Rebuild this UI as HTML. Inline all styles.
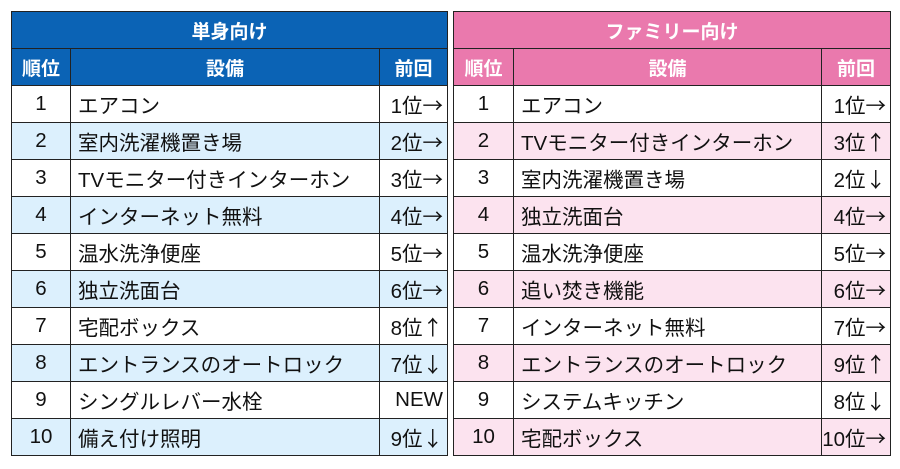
<!DOCTYPE html>
<html><head><meta charset="utf-8"><style>
body{margin:0;width:900px;height:469px;background:#fff;font-family:"Liberation Sans","Noto Sans CJK JP",sans-serif;position:relative;overflow:hidden}
table{position:absolute;top:11px;border-collapse:collapse;table-layout:fixed}
td{border:1.5px solid #222;height:36px;padding:0;font-size:20.5px;color:#111;white-space:nowrap;overflow:hidden}
.t td.h{height:36px;color:#fff;font-weight:bold;text-align:center;font-size:19px}
td.n{text-align:center}
td.s{padding-left:7px}
td.p{text-align:right;padding-right:4px}
.ar{font-family:"Noto Sans CJK JP",sans-serif}
#L{left:11px;width:436px}
#R{left:453px;width:437px}
#L .h{background:#0b63b5}
#R .h{background:#ea79ad}
#L tr.a td{background:#dcf0fd}
#R tr.a td{background:#fce3ef}
</style></head><body>
<table id="L" class="t">
<colgroup><col style="width:59px"><col style="width:309px"><col style="width:68px"></colgroup>
<tr><td class="h" colspan="3">単身向け</td></tr>
<tr><td class="h">順位</td><td class="h">設備</td><td class="h">前回</td></tr>
<tr><td class="n">1</td><td class="s">エアコン</td><td class="p">1位<span class="ar">→</span></td></tr>
<tr class="a"><td class="n">2</td><td class="s">室内洗濯機置き場</td><td class="p">2位<span class="ar">→</span></td></tr>
<tr><td class="n">3</td><td class="s">TVモニター付きインターホン</td><td class="p">3位<span class="ar">→</span></td></tr>
<tr class="a"><td class="n">4</td><td class="s">インターネット無料</td><td class="p">4位<span class="ar">→</span></td></tr>
<tr><td class="n">5</td><td class="s">温水洗浄便座</td><td class="p">5位<span class="ar">→</span></td></tr>
<tr class="a"><td class="n">6</td><td class="s">独立洗面台</td><td class="p">6位<span class="ar">→</span></td></tr>
<tr><td class="n">7</td><td class="s">宅配ボックス</td><td class="p">8位<span class="ar">↑</span></td></tr>
<tr class="a"><td class="n">8</td><td class="s">エントランスのオートロック</td><td class="p">7位<span class="ar">↓</span></td></tr>
<tr><td class="n">9</td><td class="s">シングルレバー水栓</td><td class="p">NEW</td></tr>
<tr class="a"><td class="n">10</td><td class="s">備え付け照明</td><td class="p">9位<span class="ar">↓</span></td></tr>
</table>
<table id="R" class="t">
<colgroup><col style="width:60px"><col style="width:308px"><col style="width:69px"></colgroup>
<tr><td class="h" colspan="3">ファミリー向け</td></tr>
<tr><td class="h">順位</td><td class="h">設備</td><td class="h">前回</td></tr>
<tr><td class="n">1</td><td class="s">エアコン</td><td class="p">1位<span class="ar">→</span></td></tr>
<tr class="a"><td class="n">2</td><td class="s">TVモニター付きインターホン</td><td class="p">3位<span class="ar">↑</span></td></tr>
<tr><td class="n">3</td><td class="s">室内洗濯機置き場</td><td class="p">2位<span class="ar">↓</span></td></tr>
<tr class="a"><td class="n">4</td><td class="s">独立洗面台</td><td class="p">4位<span class="ar">→</span></td></tr>
<tr><td class="n">5</td><td class="s">温水洗浄便座</td><td class="p">5位<span class="ar">→</span></td></tr>
<tr class="a"><td class="n">6</td><td class="s">追い焚き機能</td><td class="p">6位<span class="ar">→</span></td></tr>
<tr><td class="n">7</td><td class="s">インターネット無料</td><td class="p">7位<span class="ar">→</span></td></tr>
<tr class="a"><td class="n">8</td><td class="s">エントランスのオートロック</td><td class="p">9位<span class="ar">↑</span></td></tr>
<tr><td class="n">9</td><td class="s">システムキッチン</td><td class="p">8位<span class="ar">↓</span></td></tr>
<tr class="a"><td class="n">10</td><td class="s">宅配ボックス</td><td class="p">10位<span class="ar">→</span></td></tr>
</table>
</body></html>
